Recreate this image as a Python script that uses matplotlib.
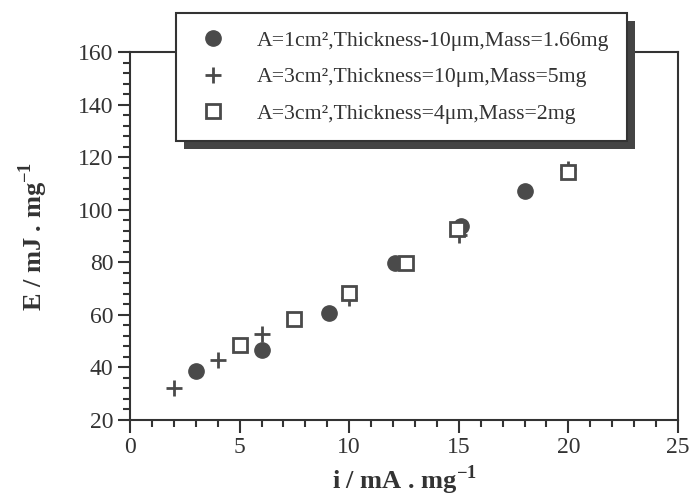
import matplotlib
matplotlib.use("Agg")
import matplotlib.pyplot as plt
from matplotlib.patches import Rectangle
from matplotlib.ticker import MultipleLocator

plt.rcParams['font.family'] = ['Liberation Serif', 'DejaVu Serif']
plt.rcParams['mathtext.fontset'] = 'custom'
plt.rcParams['mathtext.rm'] = 'Liberation Serif'
plt.rcParams['mathtext.bf'] = 'Liberation Serif:bold'

# Data
circ_x = [3.0, 6.0, 9.1, 12.1, 15.1, 18.0]
circ_y = [38.5, 46.5, 60.7, 79.8, 93.8, 107.2]
plus_x = [2, 4, 6, 10, 15, 20]
plus_y = [32.0, 42.8, 52.6, 66.3, 90.5, 115.5]
sq_x = [5, 7.5, 10, 12.6, 14.9, 20]
sq_y = [48.5, 58.3, 68.5, 79.8, 92.7, 114.5]
labels = ["A=1cm²,Thickness-10μm,Mass=1.66mg",
          "A=3cm²,Thickness=10μm,Mass=5mg",
          "A=3cm²,Thickness=4μm,Mass=2mg"]
xticks = [0, 5, 10, 15, 20, 25]
yticks = [20, 40, 60, 80, 100, 120, 140, 160]

C = '#4a4a4a'
AX = '#333333'

fig = plt.figure(figsize=(6.89, 5.01), dpi=100)
ax = fig.add_axes([130/689, 1-420/501, 548/689, 368/501])

h1, = ax.plot(circ_x, circ_y, 'o', ms=11, color=C, mec=C, ls='none', label=labels[0])
h2, = ax.plot(plus_x, plus_y, '+', ms=11, mew=2, color=C, ls='none', label=labels[1])
h3, = ax.plot(sq_x, sq_y, 's', ms=9.5, mfc='white', mec=C, mew=2, ls='none', label=labels[2])

ax.set_xlim(0, 25)
ax.set_ylim(20, 160)
ax.set_xticks(xticks)
ax.set_yticks(yticks)
ax.xaxis.set_minor_locator(MultipleLocator(1))
ax.yaxis.set_minor_locator(MultipleLocator(4))
ax.tick_params(which='major', direction='out', length=9, width=1.5, color=AX,
               labelsize=17, labelcolor='#333333', pad=3)
ax.tick_params(which='minor', direction='out', length=5, width=1.5, color=AX)
ax.tick_params(top=False, right=False, which='both')
for s in ax.spines.values():
    s.set_linewidth(1.5)
    s.set_color(AX)

ax.set_xlabel(r"i / mA . mg$^{\mathbf{-1}}$", fontsize=19, fontweight='bold', color='#333333', labelpad=4)
ax.set_ylabel(r"E / mJ . mg$^{\mathbf{-1}}$", fontsize=19, fontweight='bold', color='#333333', labelpad=20)

leg = fig.legend(handles=[h1, h2, h3], loc='upper left',
                 bbox_to_anchor=(176/689, 1-13/501), borderaxespad=0,
                 fontsize=15.7, frameon=True, fancybox=False, framealpha=1,
                 edgecolor=AX, borderpad=0.8, handlelength=1.8,
                 handletextpad=1.1, labelspacing=0.75, markerscale=1.0)
leg.get_frame().set_linewidth(1.5)
for t in leg.get_texts():
    t.set_color('#333333')
leg.set_zorder(10)

fig.canvas.draw()
bb = leg.get_window_extent()
W, H = fig.bbox.width, fig.bbox.height
off = 8
shadow = Rectangle(((bb.x0 + off)/W, (bb.y0 - off)/H), bb.width/W, bb.height/H,
                   transform=fig.transFigure, facecolor='#444444', edgecolor='none', zorder=9)
fig.add_artist(shadow)

fig.savefig('out.png', dpi=100)
